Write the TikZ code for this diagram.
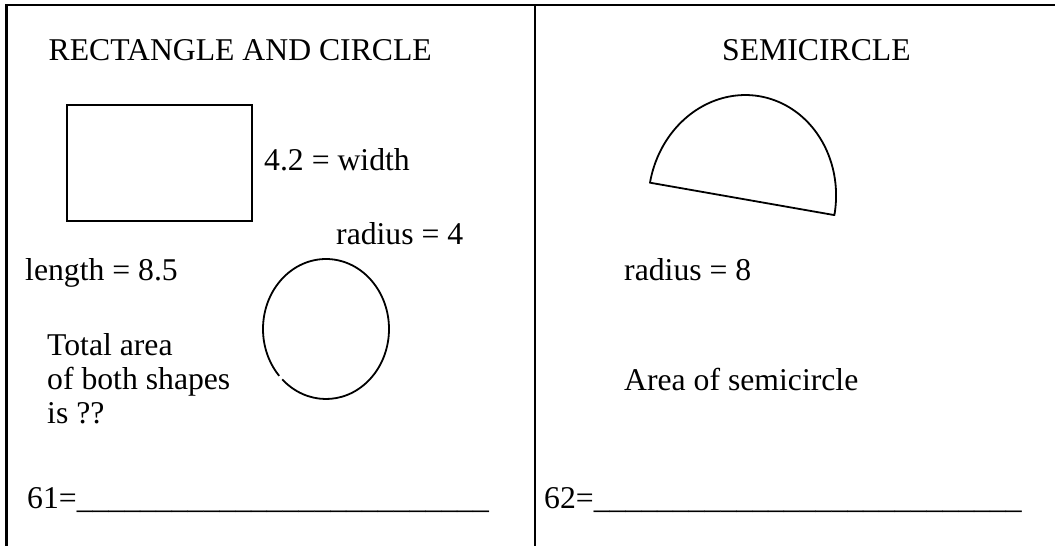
\documentclass[tikz,border=0pt]{standalone}
\usepackage{fontspec}
\setmainfont{Liberation Serif}
\begin{document}
\begin{tikzpicture}[x=1pt,y=-1pt,
  txt/.style={inner sep=0pt, anchor=base west, font=\fontsize{31.7}{34}\selectfont},
  frameline/.style={line width=2.2pt},
  figline/.style={line width=1.8pt}]
\useasboundingbox (0,0) rectangle (1055,546);
% frame
\coordinate (tl) at (6.5,5);
\coordinate (tr) at (1055,5);
\coordinate (bl) at (6.5,546);
\coordinate (tm) at (535,5);
\coordinate (bm) at (535,546);
\draw[frameline] (bl) -- (tl) -- (tr);
\draw[frameline] (tm) -- (bm);
% left panel
\node[txt] (t1) at (48.5,60) {RECTANGLE AND CIRCLE};
\draw[figline] (66.7,105) rectangle (252.3,220.7);
\node[txt] (w) at (264,170.7) {4.2 = width};
\node[txt] (r4) at (336,244) {radius = 4};
\node[txt] (len) at (25,280) {length = 8.5};
\draw[figline] (326,329) ++(138:63 and 70) arc[start angle=138, end angle=494, x radius=63, y radius=70];
\node[txt, align=left] (tot) at (47,423) {Total area\\of both shapes\\is ??};
\node[txt] (a61) at (27,508) {61=\_\_\_\_\_\_\_\_\_\_\_\_\_\_\_\_\_\_\_\_\_\_\_\_\_\_};
% right panel
\node[txt] (t2) at (722,60) {SEMICIRCLE};
\draw[figline, line join=round] plot[domain=0:180, samples=90]
  ({742.2 + 92.2*cos(\x) + 17.7*sin(\x)}, {198.9 + 16.2*cos(\x) - 102.6*sin(\x)}) -- cycle;
\node[txt] (r8) at (624,280) {radius = 8};
\node[txt] (area) at (624,390) {Area of semicircle};
\node[txt] (a62) at (544,508) {62=\_\_\_\_\_\_\_\_\_\_\_\_\_\_\_\_\_\_\_\_\_\_\_\_\_\_\_};
\end{tikzpicture}
\end{document}
